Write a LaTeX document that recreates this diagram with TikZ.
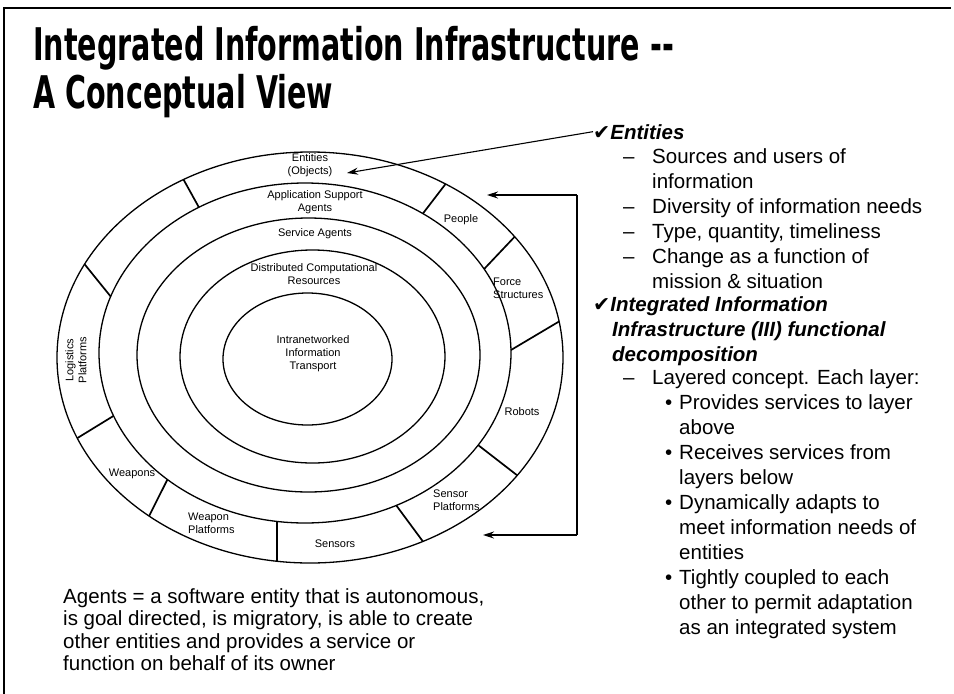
\documentclass[tikz,border=0pt]{standalone}
\usepackage{fontspec}
\setmainfont{Liberation Sans}
\newfontfamily\titlefont[FakeStretch=0.635]{DejaVu Sans}
\newfontfamily\symfont{DejaVu Sans}
\usetikzlibrary{arrows.meta}
\begin{document}
\begin{tikzpicture}[x=1pt,y=-1pt,
  ringline/.style={line width=1.3pt},
  divline/.style={line width=1.7pt},
  ringlab/.style={font=\fontsize{11}{13}\selectfont, align=center, inner sep=0pt},
  ringlabl/.style={font=\fontsize{11}{13}\selectfont, align=left, inner sep=0pt},
  bodytxt/.style={font=\fontsize{20.5}{25}\selectfont, anchor=base west, inner sep=0pt},
  headtxt/.style={font=\fontsize{20.5}{25}\selectfont\bfseries\itshape, anchor=base west, inner sep=0pt},
  titletxt/.style={font=\titlefont\bfseries\fontsize{45}{50}\selectfont, anchor=base west, inner sep=0pt},
  arr/.style={-{Stealth[length=11pt,width=7pt]}, line width=1.1pt}]
\useasboundingbox (0,0) rectangle (954,694);
% frame
\draw[line width=1.3pt] (4,694) -- (4,8) -- (951,8);
% title
\node[titletxt] (t1) at (33,60) {Integrated Information Infrastructure -{}-};
\node[titletxt] (t2) at (33,108) {A Conceptual View};
% ellipses
\coordinate (c1) at (310,357.5);
\coordinate (c2) at (305,353);
\coordinate (c3) at (308.5,355);
\coordinate (c4) at (312.5,356.5);
\coordinate (c5) at (307.5,359);
\draw[ringline] (c1) ellipse [x radius=253, y radius=205.5];
\draw[ringline] (c2) ellipse [x radius=206, y radius=170];
\draw[ringline] (c3) ellipse [x radius=171.5, y radius=137];
\draw[ringline] (c4) ellipse [x radius=132.5, y radius=106.5];
\draw[ringline] (c5) ellipse [x radius=84.5, y radius=66];
% dividers of the outer ring
\foreach \a/\b in {-120/-121, -153/-160.6, 156.9/158.3, 129.5/131.9, 97.5/97.8,
                   63.5/63.7, 35/32.8, -10.1/-1, -36/-29.6, -57.6/-55.1}
  {\draw[divline] ([shift={(\a:253 and 205.5)}]c1) -- ([shift={(\b:206 and 170)}]c2);}
% ring labels
\node[ringlab] (lEnt) at (310,165) {Entities\\(Objects)};
\node[ringlab] (lAsa) at (315,202) {Application Support\\Agents};
\node[ringlab] (lSa) at (315,234) {Service Agents};
\node[ringlab] (lDcr) at (314,274) {Distributed Computational\\Resources};
\node[ringlab] (lIit) at (313,354) {Intranetworked\\Information\\Transport};
\node[ringlab] (lPeo) at (461,220) {People};
\node[ringlabl, anchor=west] (lFor) at (493,288) {Force\\Structures};
\node[ringlab] (lRob) at (522,412) {Robots};
\node[ringlabl, anchor=west] (lSp) at (433,500) {Sensor\\Platforms};
\node[ringlab] (lSen) at (335,544) {Sensors};
\node[ringlabl, anchor=west] (lWp) at (188,523) {Weapon\\Platforms};
\node[ringlab] (lWea) at (132,474) {Weapons};
\node[ringlab, rotate=90] (lLog) at (76,360) {Logistics\\Platforms};
% right column
\node[headtxt] (hEnt) at (593,139) {{\symfont ✔}Entities};
\coordinate (entTip) at (347,173);
\draw[arr] (hEnt.west) -- (entTip);
\foreach \yy in {163,213,238,263,384}
  {\node[bodytxt] at (623,\yy) {–};}
\foreach \yy/\txt [count=\i] in {163/Sources and users of, 188/information,
    213/Diversity of information needs, 238/{Type, quantity, timeliness},
    263/Change as a function of, 288/mission \& situation,
    384/Layered concept. Each layer:}
  {\node[bodytxt] (a\i) at (652,\yy) {\txt};}
\node[headtxt] (hIii) at (593,311) {{\symfont ✔}Integrated Information};
\node[headtxt] (hIii2) at (612,336) {Infrastructure (III) functional};
\node[headtxt] (hIii3) at (612,361) {decomposition};
\foreach \yy in {409,459,509,584}
  {\node[bodytxt] at (665,\yy) {•};}
\foreach \yy/\txt [count=\i] in {409/Provides services to layer, 434/above,
    459/Receives services from, 484/layers below, 509/Dynamically adapts to,
    534/meet information needs of, 559/entities, 584/Tightly coupled to each,
    609/other to permit adaptation, 634/as an integrated system}
  {\node[bodytxt] (b\i) at (679,\yy) {\txt};}
% bracket arrows
\coordinate (brTop) at (577,195);
\coordinate (brBot) at (577,535);
\coordinate (tipTop) at (487,195);
\coordinate (tipBot) at (483,535);
\draw[arr] (brTop) -- (tipTop);
\draw[line width=1.1pt] (brTop) -- (brBot);
\draw[arr] (brBot) -- (tipBot);
% agents definition
\foreach \yy/\txt [count=\i] in {603/{Agents = a software entity that is autonomous,},
    625/{is goal directed, is migratory, is able to create},
    648/other entities and provides a service or,
    670/function on behalf of its owner}
  {\node[bodytxt] (d\i) at (63,\yy) {\txt};}
\end{tikzpicture}
\end{document}
